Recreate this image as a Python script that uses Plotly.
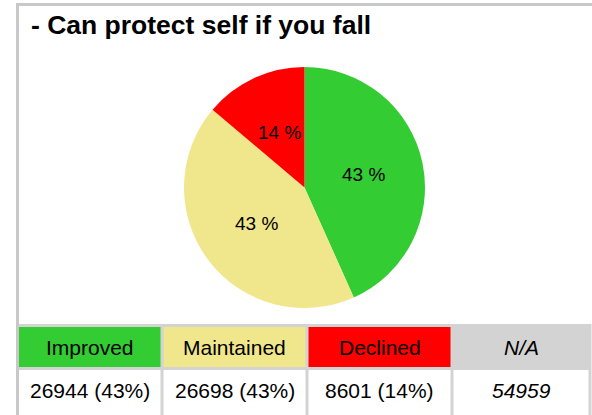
import math
import plotly.graph_objects as go

# Outcome counts for the question
categories = ["Improved", "Maintained", "Declined"]
counts = [26944, 26698, 8601]
na_label = "N/A"
na_count = 54959
slice_colors = ["#33CC33", "#F0E68C", "#FF0000"]
na_color = "#D3D3D3"
title_text = "- Can protect self if you fall"

W, H = 592, 415
FONT = "Liberation Sans, Arial, sans-serif"
GRID = "#D3D3D3"


def px(x):
    return x / W


def py(y):
    return 1 - y / H


total = sum(counts)
pct = [round(c / total * 100) for c in counts]
pie_text = [f"{p} %" for p in pct]

# Pie geometry (pixels)
pie_box = (182, 427, 67, 308)  # left, right, top, bottom
cx = (pie_box[0] + pie_box[1]) / 2
cy = (pie_box[2] + pie_box[3]) / 2
R = min(pie_box[1] - pie_box[0], pie_box[3] - pie_box[2]) / 2

fig = go.Figure()

fig.add_trace(go.Pie(
    labels=categories,
    values=counts,
    textinfo="none",
    sort=False,
    direction="clockwise",
    rotation=0,
    marker=dict(colors=slice_colors, line=dict(width=0)),
    hoverinfo="label+value+percent",
    showlegend=False,
    domain=dict(x=[px(pie_box[0]), px(pie_box[1])], y=[py(pie_box[3]), py(pie_box[2])]),
))

# Percentage labels at half radius along each slice's mid-angle
acc = 0
for c, t in zip(counts, pie_text):
    mid = (acc + c / 2) / total * 2 * math.pi
    acc += c
    lx = cx + 0.5 * R * math.sin(mid)
    ly = cy - 0.5 * R * math.cos(mid)
    fig.add_annotation(text=t, xref="paper", yref="paper", x=px(lx), y=py(ly),
                       xanchor="center", yanchor="middle", showarrow=False,
                       font=dict(family=FONT, size=19, color="black"))

# Summary table below the pie
col_edges = [17.5, 162, 307, 452, 590]
row_top, row_mid, row_bot = 325.5, 368.5, 418
head_labels = categories + [f"<i>{na_label}</i>"]
head_colors = slice_colors + [na_color]
cell_labels = [f"{c} ({p}%)" for c, p in zip(counts, pct)] + [f"<i>{na_count}</i>"]

fig.add_shape(type="rect", xref="paper", yref="paper",
              x0=px(col_edges[0] - 1.5), x1=px(col_edges[-1] + 1.5),
              y0=py(row_bot), y1=py(row_top - 1.5),
              line=dict(width=0), fillcolor=GRID, layer="below")

for i in range(len(head_labels)):
    x0, x1 = col_edges[i] + 1.5, col_edges[i + 1] - 1.5
    fig.add_shape(type="rect", xref="paper", yref="paper",
                  x0=px(x0), x1=px(x1), y0=py(row_mid - 1.5), y1=py(row_top + 1.5),
                  line=dict(width=0), fillcolor=head_colors[i], layer="below")
    fig.add_shape(type="rect", xref="paper", yref="paper",
                  x0=px(x0), x1=px(x1), y0=py(row_bot), y1=py(row_mid + 1.5),
                  line=dict(width=0), fillcolor="white", layer="below")
    xc = (col_edges[i] + col_edges[i + 1]) / 2
    fig.add_annotation(text=head_labels[i], xref="paper", yref="paper",
                       x=px(xc), y=py(347.5), xanchor="center", yanchor="middle",
                       showarrow=False, font=dict(family=FONT, size=21, color="black"))
    fig.add_annotation(text=cell_labels[i], xref="paper", yref="paper",
                       x=px(xc), y=py(390.5), xanchor="center", yanchor="middle",
                       showarrow=False, font=dict(family=FONT, size=21, color="black"))

# Outer panel frame
fig.add_shape(type="rect", xref="paper", yref="paper",
              x0=px(17.5), x1=1.05, y0=-0.05, y1=py(4.5),
              line=dict(color="#C8C8C8", width=3), fillcolor="rgba(0,0,0,0)", layer="below")

fig.add_annotation(text=f"<b>{title_text}</b>", xref="paper", yref="paper",
                   x=px(28.5), y=py(25), xanchor="left", yanchor="middle",
                   showarrow=False, font=dict(family=FONT, size=26.5, color="black"))

fig.update_layout(
    width=W, height=H,
    margin=dict(l=0, r=0, t=0, b=0),
    paper_bgcolor="white",
    plot_bgcolor="white",
)

fig.write_html("out.html")
